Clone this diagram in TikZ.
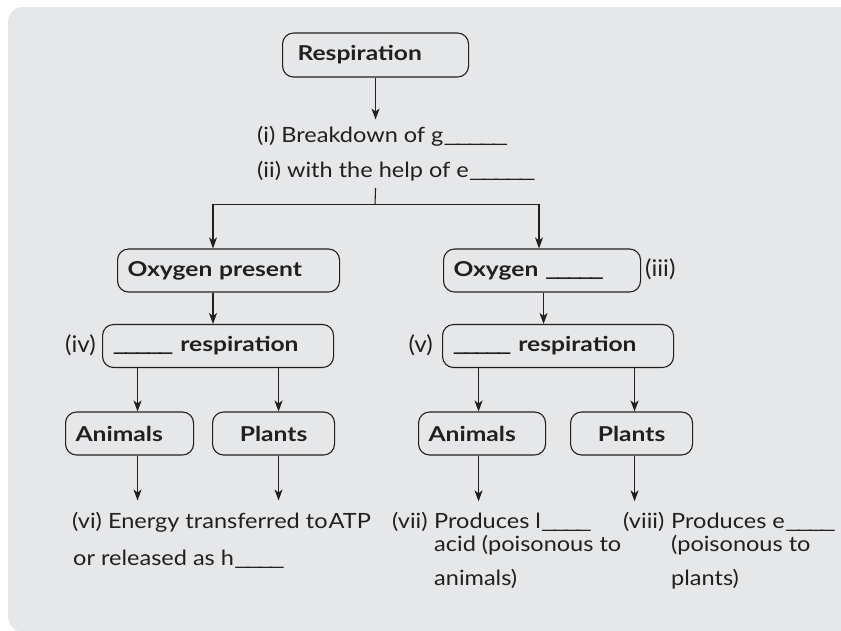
\documentclass[tikz,border=0pt]{standalone}
\usepackage{graphicx}
\usepackage{fontspec}
\setmainfont{Lato}[FakeStretch=1.12, BoldFeatures={FakeStretch=1.2}]
\newfontfamily\tagfam{Lato}[FakeStretch=1.05]
\usetikzlibrary{arrows.meta,calc}
\definecolor{bg}{HTML}{E6E7E8}
\definecolor{ink}{HTML}{231F20}
\newcommand{\bodyfont}{\fontsize{21}{24}\selectfont}
\newcommand{\boxfont}{\bfseries\fontsize{20.5}{24}\selectfont}
\newcommand{\tagfont}{\tagfam\fontsize{23}{26}\selectfont}
\newcommand{\us}{\_\kern-.16em}
\newcommand{\blank}[2]{\resizebox*{#1}{\totalheight}{#2}}
\begin{document}
\begin{tikzpicture}[x=1pt,y=-1pt,
  box/.style={draw=ink, line width=1.1pt, rounded corners=11pt, font=\boxfont, text=ink,
    minimum height=43pt, inner ysep=0pt, inner xsep=10pt, anchor=west, align=left},
  txt/.style={font=\bodyfont, text=ink, inner sep=0pt, anchor=base west},
  tag/.style={font=\tagfont, text=ink, inner sep=0pt},
  conn/.style={draw=ink, line width=1.1pt},
  arr/.style={conn, -{Stealth[length=11pt,width=8pt,inset=3pt]}}]
\useasboundingbox (0,0) rectangle (841,630);
\clip (0,0) rectangle (841,630);
\fill[bg, rounded corners=15pt] (8,7) rectangle (880,632);

% boxes
\node[box, inner xsep=15pt, text width=156pt, minimum height=44pt] (resp) at (282,55) {Respiration};
\node[box, text width=202pt] (oxp) at (117,270.5) {Oxygen present};
\node[box, text width=177pt] (ox2) at (443,270.5) {Oxygen \blank{59pt}{\us\us\us\us\_}};
\node[box, text width=211pt] (aer) at (102,346) {\blank{61pt}{\us\us\us\us\_} respiration};
\node[box, text width=211pt] (anaer) at (442,346) {\blank{59pt}{\us\us\us\us\_} respiration};
\node[box, text width=108pt] (an1) at (65,433.5) {Animals};
\node[box, text width=102pt, align=center] (pl1) at (212,433.5) {Plants};
\node[box, text width=107pt] (an2) at (418,433.5) {Animals};
\node[box, text width=102pt, align=center] (pl2) at (570,433.5) {Plants};

% tags
\node[tag, anchor=east] (tiv) at (96,345) {(iv)};
\node[tag, anchor=east] (tv) at (433,345) {(v)};
\node[tag, anchor=west] (tiii) at (645,269) {(iii)};

% texts
\node[txt] (t1) at (257,142) {(i) Breakdown of g\blank{65pt}{\us\us\us\us\_}};
\node[txt] (t2) at (257,177) {(ii) with the help of e\blank{67pt}{\us\us\us\us\_}};
\node[txt] (t6) at (72,528) {(vi) Energy transferred to\hspace{1pt}ATP};
\node[txt] (t6b) at (73,565) {or released as h\blank{51pt}{\us\us\us\_}};
\node[txt] (t7l) at (392,528) {(vii)};
\node[txt] (t7) at (434,528) {Produces l\blank{51pt}{\us\us\us\_}};
\node[txt] (t7b) at (434,551) {acid (poisonous to};
\node[txt] (t7c) at (434,585) {animals)};
\node[txt] (t8l) at (623,528) {(viii)};
\node[txt] (t8) at (671,528) {Produces e\blank{51pt}{\us\us\us\_}};
\node[txt] (t8b) at (671,551) {(poisonous to};
\node[txt] (t8c) at (671,585) {plants)};

% connectors
\coordinate (jn) at (375,204.5);
\coordinate (jl) at (213,204.5);
\coordinate (jr) at (539,204.5);
\draw[arr] (resp.south) -- ($(resp.south |- t1.north)+(0,-6)$);
\draw[conn] ($(resp.south |- t2.south)+(0,7)$) -- (jn);
\draw[arr] (jn) -- (jl) -- (jl |- oxp.north);
\draw[arr] (jn) -- (jr) -- (jr |- ox2.north);
\draw[arr] (jl |- oxp.south) -- (jl |- aer.north);
\draw[arr] ($(ox2.south)+(1.5,0)$) -- ($(ox2.south |- anaer.north)+(1.5,0)$);

\coordinate (c1) at ($(an1.north)+(8,0)$);
\coordinate (c2) at ($(pl1.north)+(5,0)$);
\coordinate (c3) at ($(an2.north)+(-3.5,0)$);
\coordinate (c4) at ($(pl2.north)+(3,0)$);
\draw[arr] (c1 |- aer.south) -- (c1);
\draw[arr] (c2 |- aer.south) -- (c2);
\draw[arr] (c3 |- anaer.south) -- (c3);
\draw[arr] (c4 |- anaer.south) -- (c4);

\draw[arr] (c1 |- an1.south) -- ($(c1 |- t6.north)+(0,-11)$);
\draw[arr] (c2 |- pl1.south) -- ($(c2 |- t6.north)+(0,-11)$);
\draw[arr] (c3 |- an2.south) -- ($(c3 |- t7.north)+(0,-11)$);
\draw[arr] (c4 |- pl2.south) -- ($(c4 |- t8.north)+(0,-11)$);
\end{tikzpicture}
\end{document}
